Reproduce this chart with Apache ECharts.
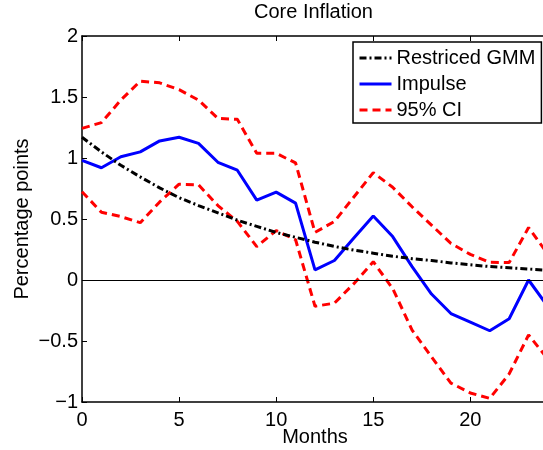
<!DOCTYPE html>
<html>
<head>
<meta charset="utf-8">
<script src="https://cdn.jsdelivr.net/npm/echarts@6/dist/echarts.min.js"></script>
<style>
html,body{margin:0;padding:0;background:#fff;}
#chart{width:543px;height:450px;}
</style>
</head>
<body>
<div id="chart"></div>
<script>
const months = [0,1,2,3,4,5,6,7,8,9,10,11,12,13,14,15,16,17,18,19,20,21,22,23,24];
const gmm     = [1.17,1.05,0.94,0.845,0.755,0.675,0.61,0.55,0.49,0.44,0.39,0.35,0.31,0.275,0.245,0.22,0.195,0.175,0.16,0.14,0.125,0.11,0.10,0.09,0.08];
const impulse = [0.98,0.92,1.01,1.05,1.14,1.17,1.12,0.965,0.90,0.655,0.72,0.63,0.083,0.16,0.345,0.525,0.356,0.11,-0.115,-0.275,-0.345,-0.416,-0.318,0.0,-0.22];
const ciUpper = [1.243,1.29,1.475,1.63,1.616,1.56,1.475,1.325,1.317,1.038,1.038,0.96,0.39,0.48,0.68,0.88,0.76,0.60,0.45,0.30,0.21,0.145,0.143,0.43,0.21];
const ciLower = [0.724,0.555,0.52,0.47,0.64,0.785,0.78,0.61,0.48,0.274,0.405,0.33,-0.215,-0.19,-0.03,0.15,-0.07,-0.41,-0.63,-0.845,-0.926,-0.97,-0.77,-0.45,-0.65];
const xTicks = [0,5,10,15,20];
const yTicks = [-1,-0.5,0,0.5,1,1.5,2];

const FONT = '"Liberation Sans", Arial, Helvetica, sans-serif';
const pairs = arr => months.map((m,i) => [m, arr[i]]);

const chart = echarts.init(document.getElementById('chart'), null, {renderer:'canvas'});
const axisCommon = {
  type:'value',
  axisLine:{show:true, onZero:false, lineStyle:{color:'#000', width:1.5}},
  axisTick:{show:true, inside:true, length:5, lineStyle:{color:'#000', width:1}},
  splitLine:{show:false}
};
chart.setOption({
  animation:false,
  backgroundColor:'#fff',
  title:{
    text:'Core Inflation', left:254, top:2, padding:0,
    textStyle:{fontFamily:FONT, fontSize:20, fontWeight:'normal', color:'#000'}
  },
  legend:{
    data:['Restriced GMM','Impulse','95% CI'],
    orient:'vertical', left:353, top:42,
    backgroundColor:'#fff', borderColor:'#000', borderWidth:1.5,
    padding:[6,6,3,5], itemWidth:32, itemHeight:14, itemGap:6,
    itemStyle:{opacity:0},
    lineStyle:{width:3},
    textStyle:{fontFamily:FONT, fontSize:20, color:'#000', lineHeight:20}
  },
  grid:{left:82, right:-5, top:36, bottom:48, containLabel:false, outerBoundsMode:'none'},
  xAxis:[
    Object.assign({}, axisCommon, {
      position:'bottom', min:0, max:24, interval:5,
      name:'Months', nameLocation:'middle', nameGap:25, nameMoveOverlap:false,
      nameTextStyle:{fontFamily:FONT, fontSize:20, color:'#000'},
      axisLabel:{fontFamily:FONT, fontSize:20, color:'#000', margin:8,
        formatter:v => xTicks.includes(v) ? String(v) : ''}
    }),
    Object.assign({}, axisCommon, {
      position:'top', min:0, max:24, interval:5, axisLabel:{show:false}
    })
  ],
  yAxis:[
    Object.assign({}, axisCommon, {
      position:'left', min:-1, max:2, interval:0.5,
      name:'Percentage points', nameLocation:'middle', nameGap:50, nameMoveOverlap:false,
      nameTextStyle:{fontFamily:FONT, fontSize:20, color:'#000'},
      axisLabel:{fontFamily:FONT, fontSize:20, color:'#000', margin:4,
        formatter:v => yTicks.includes(v) ? String(v).replace('-', '\u2212') : ''}
    }),
    Object.assign({}, axisCommon, {
      position:'right', min:-1, max:2, interval:0.5, axisLabel:{show:false}
    })
  ],
  series:[
    {
      name:'Impulse', type:'line', data:pairs(impulse), symbol:'none',
      lineStyle:{color:'#0000ff', width:3}, itemStyle:{color:'#0000ff'},
      markLine:{silent:true, symbol:'none', label:{show:false},
        lineStyle:{color:'#000', width:1, type:'solid'}, data:[{yAxis:0}]}
    },
    {
      name:'95% CI', type:'line', data:pairs(ciUpper), symbol:'none',
      lineStyle:{color:'#ff0000', width:3, type:[8,5]}, itemStyle:{color:'#ff0000'}
    },
    {
      name:'95% CI', type:'line', data:pairs(ciLower), symbol:'none',
      lineStyle:{color:'#ff0000', width:3, type:[8,5]}, itemStyle:{color:'#ff0000'}
    },
    {
      name:'Restriced GMM', type:'line', data:pairs(gmm), symbol:'none',
      lineStyle:{color:'#000', width:3, type:[7,3,2,3]}, itemStyle:{color:'#000'}
    }
  ]
});
</script>
</body>
</html>
